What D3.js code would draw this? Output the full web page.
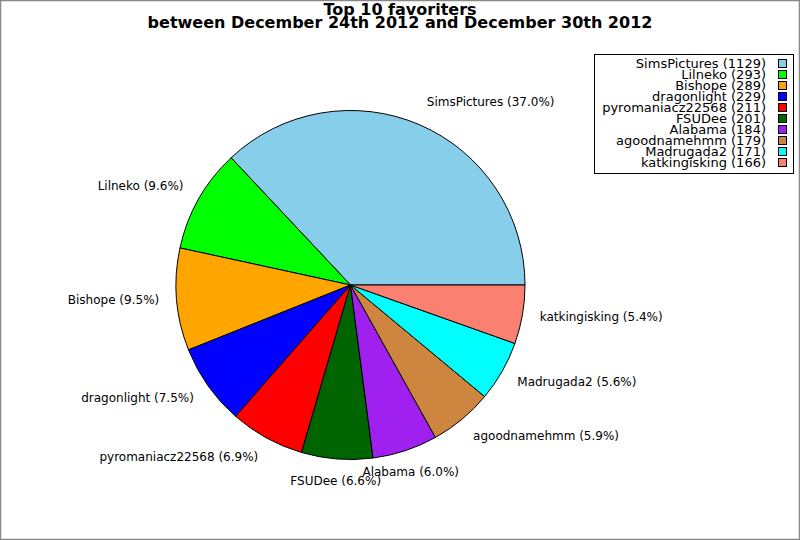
<!DOCTYPE html>
<html>
<head>
<meta charset="utf-8">
<script src="https://cdn.jsdelivr.net/npm/d3@7"></script>
<style>
  body { margin: 0; background: #fff; }
  svg { display: block; font-family: "DejaVu Sans", sans-serif; }
</style>
</head>
<body>
<svg id="chart" width="800" height="540"></svg>
<script>
// data
const names = ['SimsPictures', 'Lilneko', 'Bishope', 'dragonlight', 'pyromaniacz22568',
               'FSUDee', 'Alabama', 'agoodnamehmm', 'Madrugada2', 'katkingisking'];
const counts = [1129, 293, 289, 229, 211, 201, 184, 179, 171, 166];
const colors = ['#87ceeb', '#00ff00', '#ffa500', '#0000ff', '#ff0000',
                '#006400', '#a020f0', '#cd853f', '#00ffff', '#fa8072'];
const titleLines = ['Top 10 favoriters', 'between December 24th 2012 and December 30th 2012'];

const width = 800, height = 540;
const cx = 350.5, cy = 285, radius = 174.5;

const svg = d3.select('#chart');

// grey frame round the figure
svg.append('rect')
  .attr('x', 0.5).attr('y', 0.5)
  .attr('width', width - 1).attr('height', height - 1)
  .attr('fill', '#fff')
  .attr('stroke', '#888')
  .attr('stroke-width', 1.5);

// title
svg.append('text')
  .attr('x', 400)
  .attr('text-anchor', 'middle')
  .attr('font-weight', 'bold')
  .attr('font-size', '16px')
  .selectAll('tspan')
  .data(titleLines)
  .enter()
  .append('tspan')
  .attr('x', 400)
  .attr('y', (d, i) => 15 + i * 13)
  .text(d => d);

const data = names.map((n, i) => ({name: n, value: counts[i], color: colors[i]}));
const total = d3.sum(counts);

// pie starts at 3 o'clock and runs counter-clockwise
const pie = d3.pie()
  .sort(null)
  .value(d => d.value)
  .startAngle(Math.PI / 2)
  .endAngle(Math.PI / 2 - 2 * Math.PI);

const arc = d3.arc().innerRadius(0).outerRadius(radius);
const arcs = pie(data);

const g = svg.append('g').attr('transform', 'translate(' + cx + ',' + cy + ')');

g.selectAll('path')
  .data(arcs)
  .enter()
  .append('path')
  .attr('d', arc)
  .attr('fill', d => d.data.color)
  .attr('stroke', '#000')
  .attr('stroke-width', 1);

// slice labels just outside the rim
g.selectAll('text.lbl')
  .data(arcs)
  .enter()
  .append('text')
  .attr('class', 'lbl')
  .attr('font-size', '12px')
  .each(function(d) {
    const a = (d.startAngle + d.endAngle) / 2; // d3 angle, 0 = 12 o'clock
    const x = Math.sin(a) * radius * 1.1;
    const y = -Math.cos(a) * (radius * 1.1 + 6) - 1.5;
    const anchor = Math.abs(Math.sin(a)) < 0.35 ? 'middle' : (x > 0 ? 'start' : 'end');
    d3.select(this)
      .attr('x', x)
      .attr('y', y)
      .attr('dy', '0.36em')
      .attr('text-anchor', anchor)
      .text(d.data.name + ' (' + (100 * d.data.value / total).toFixed(1) + '%)');
  });

// legend
const legX = 594, legY = 54, legW = 199, legH = 119, rowH = 11;
const leg = svg.append('g');
leg.append('rect')
  .attr('x', legX + 0.5).attr('y', legY + 0.5)
  .attr('width', legW).attr('height', legH)
  .attr('fill', '#fff')
  .attr('stroke', '#000')
  .attr('stroke-width', 1);

const rows = leg.selectAll('g.row')
  .data(data)
  .enter()
  .append('g')
  .attr('class', 'row')
  .attr('transform', (d, i) => 'translate(0,' + (legY + 9 + i * rowH) + ')');

rows.append('text')
  .attr('x', 766)
  .attr('y', 0)
  .attr('dy', '0.36em')
  .attr('text-anchor', 'end')
  .attr('font-size', '13px')
  .text(d => d.name + ' (' + d.value + ')');

rows.append('rect')
  .attr('x', 778.5).attr('y', -3.5)
  .attr('width', 8).attr('height', 8)
  .attr('fill', d => d.color)
  .attr('stroke', '#000')
  .attr('stroke-width', 1);
</script>
</body>
</html>
